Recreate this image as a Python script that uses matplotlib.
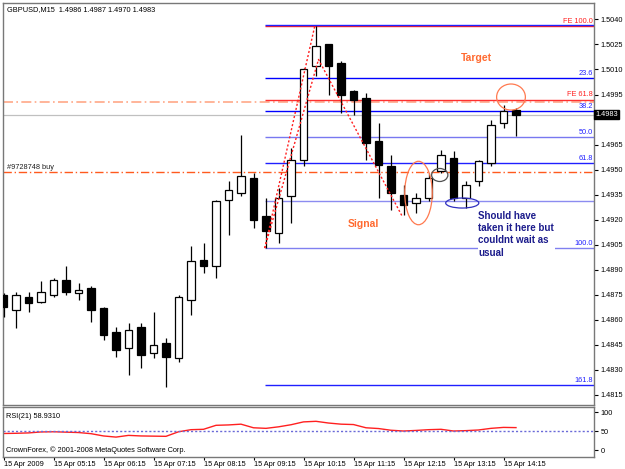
import numpy as np
import matplotlib
matplotlib.use('Agg')
import matplotlib.pyplot as plt
from matplotlib.patches import Ellipse

plt.rcParams['font.family'] = ['Liberation Sans', 'DejaVu Sans']

# --- data (GBPUSD M15, 15 Apr 2009) ---
opens = [1.4875, 1.4866, 1.4874, 1.4871, 1.4875, 1.4884, 1.4876, 1.4879, 1.4867, 1.4853,
         1.4843, 1.4856, 1.4840, 1.4846, 1.4837, 1.4872, 1.4896, 1.4892, 1.4932, 1.4936,
         1.4945, 1.4922, 1.4912, 1.4934, 1.4956, 1.5012, 1.5025, 1.5014, 1.4997, 1.4993,
         1.4967, 1.4952, 1.4935, 1.4930, 1.4933, 1.4949, 1.4957, 1.4933, 1.4943, 1.4954,
         1.4978, 1.4986]
highs = [1.4876, 1.4877, 1.4877, 1.4883, 1.4885, 1.4892, 1.4882, 1.4880, 1.4868, 1.4856,
         1.4858, 1.4858, 1.4865, 1.4849, 1.4875, 1.4904, 1.4906, 1.4932, 1.4943, 1.4971,
         1.4948, 1.4933, 1.4939, 1.4963, 1.5011, 1.5036, 1.5025, 1.5015, 1.4998, 1.4996,
         1.4978, 1.4959, 1.4941, 1.4936, 1.4948, 1.4962, 1.4961, 1.4943, 1.4956, 1.4980,
         1.4989, 1.4987]
lows = [1.4862, 1.4855, 1.4865, 1.4870, 1.4874, 1.4875, 1.4872, 1.4859, 1.4848, 1.4838,
        1.4827, 1.4831, 1.4837, 1.4820, 1.4835, 1.4863, 1.4888, 1.4885, 1.4911, 1.4934,
        1.4915, 1.4903, 1.4906, 1.4918, 1.4952, 1.5006, 1.4995, 1.4984, 1.4983, 1.4956,
        1.4933, 1.4926, 1.4923, 1.4924, 1.4931, 1.4948, 1.4931, 1.4927, 1.4940, 1.4952,
        1.4975, 1.4970]
closes = [1.4868, 1.4875, 1.4870, 1.4877, 1.4884, 1.4877, 1.4878, 1.4866, 1.4851, 1.4842,
          1.4854, 1.4839, 1.4845, 1.4838, 1.4874, 1.4895, 1.4892, 1.4931, 1.4938, 1.4946,
          1.4920, 1.4913, 1.4933, 1.4956, 1.5010, 1.5024, 1.5012, 1.4995, 1.4992, 1.4966,
          1.4953, 1.4936, 1.4929, 1.4933, 1.4945, 1.4959, 1.4933, 1.4941, 1.4955, 1.4977,
          1.4985, 1.4983]
rsi = [43.5, 44, 45, 47.5, 48, 47, 46, 43, 37, 34, 38.5, 37, 36.5, 36, 48, 53.5, 54.5, 65,
       66, 68, 58.5, 57, 61, 66.5, 74, 75.5, 71, 68, 67, 58.5, 56.5, 52, 50, 51.5, 53.5, 54.5,
       50, 51, 52.7, 57, 59.5, 58.931]
time_labels = ['15 Apr 2009', '15 Apr 05:15', '15 Apr 06:15', '15 Apr 07:15', '15 Apr 08:15',
               '15 Apr 09:15', '15 Apr 10:15', '15 Apr 11:15', '15 Apr 12:15', '15 Apr 13:15',
               '15 Apr 14:15']
price_ticks = [1.5040, 1.5025, 1.5010, 1.4995, 1.4965, 1.4950, 1.4935, 1.4920, 1.4905,
               1.4890, 1.4875, 1.4860, 1.4845, 1.4830, 1.4815]

# fibo retracement (blue) and fibo expansion (red) levels
fib_levels = [1.50365, 1.5005, 1.49852, 1.49695, 1.49538, 1.49315, 1.4903, 1.4821]
fib_names = ['', '23.6', '38.2', '50.0', '61.8', '', '100.0', '161.8']
fib_colors = ['#2020ff', '#0000ff', '#0000ff', '#7878f0', '#2020ff', '#8c8cf0', '#8080f0', '#2020ff']
fe_levels = [1.5036, 1.4992]
fe_names = ['FE 100.0', 'FE 61.8']
anchor_idx = 20.9
buy_price = 1.49486
tp_price = 1.49907
bid = 1.4983

# zigzag anchors of the fibo tools
zz_x = [20.9, 25.2, 31.9]
zz_y = [1.4903, 1.5016, 1.4922]
fr_x = [20.9, 24.9]
fr_y = [1.4903, 1.5036]

n = len(opens)
x = np.arange(n)
xmin, xmax = -0.08, 47.2

fig = plt.figure(figsize=(6.25, 4.69), dpi=100)
fig.patch.set_facecolor('white')
ax = fig.add_axes([0.004, 0.1375, 0.9456, 0.856])
ar = fig.add_axes([0.004, 0.0262, 0.9456, 0.1066])

# --- candles ---
ax.vlines(x, lows, highs, color='black', linewidth=0.9, zorder=3)
for i in range(n):
    o, c = opens[i], closes[i]
    bottom = min(o, c)
    h = max(abs(c - o), 0.00004)
    fc = 'white' if c >= o else 'black'
    ax.bar(x[i], h, bottom=bottom, width=0.62, facecolor=fc, edgecolor='black',
           linewidth=0.9, zorder=4)

# --- level lines ---
ax.axhline(tp_price, color='#ffa888', linewidth=1.2, linestyle=(0, (6, 2, 1, 2)), zorder=1)
ax.axhline(buy_price, color='#ff5a1e', linewidth=1.0, linestyle=(0, (6, 2, 1, 2)), zorder=1)
ax.axhline(bid, color='#c0c0c0', linewidth=0.9, zorder=1)
ax.text(0.25, buy_price + 0.00008, '#9728748 buy', fontsize=5.3, color='#202020', va='bottom')

for lv, c in zip(fe_levels, ['#ff2020', '#ff3030']):
    ax.hlines(lv, anchor_idx, xmax, color=c, linewidth=1.0, zorder=2)
for lv, c in zip(fib_levels, fib_colors):
    ax.hlines(lv, anchor_idx, xmax, color=c, linewidth=1.0, zorder=2)

lab_x = xmax - 0.05
for lv, name in zip(fe_levels, fe_names):
    ax.text(lab_x, lv + 0.00007, name, fontsize=5.3, color='#ff2020', ha='right', va='bottom')
for lv, name in zip(fib_levels, fib_names):
    if name:
        ax.text(lab_x, lv + 0.00007, name, fontsize=5.3, color='#2020ff', ha='right', va='bottom')

ax.plot(zz_x, zz_y, color='#ff2020', linewidth=1.0, linestyle=(0, (1.5, 1.5)), zorder=5)
ax.plot(fr_x, fr_y, color='#ff2020', linewidth=1.0, linestyle=(0, (1.5, 1.5)), zorder=5)

# --- annotations ---
ax.text(37.8, 1.50168, 'Target', fontsize=7.5, fontweight='bold', color='#ff6a30',
        ha='center', va='center')
ax.text(28.8, 1.49175, 'Signal', fontsize=7.5, fontweight='bold', color='#ff6a30',
        ha='center', va='center')
ax.text(38.0, 1.49255, 'Should have\ntaken it here but\ncouldnt wait as\nusual', fontsize=7,
        fontweight='bold', color='#1c1c8c', ha='left', va='top', linespacing=1.3,
        bbox=dict(facecolor='white', edgecolor='none', pad=0.5), zorder=6)

ax.add_patch(Ellipse((33.2, 1.4936), 2.2, 0.0038, fill=False, edgecolor='#ff7a50', linewidth=0.9, zorder=6))
ax.add_patch(Ellipse((34.9, 1.49468), 1.3, 0.00078, fill=False, edgecolor='#505050', linewidth=0.9, zorder=6))
ax.add_patch(Ellipse((36.7, 1.4930), 2.65, 0.0006, fill=False, edgecolor='#3030c0', linewidth=0.9, zorder=6))
ax.add_patch(Ellipse((40.6, 1.49935), 2.3, 0.00156, fill=False, edgecolor='#ff7a50', linewidth=0.9, zorder=6))

ax.text(0.008, 0.992, 'GBPUSD,M15  1.4986 1.4987 1.4970 1.4983', transform=ax.transAxes,
        fontsize=5.3, color='black', ha='left', va='top')

# --- main axis formatting ---
ax.set_xlim(xmin, xmax)
ax.set_ylim(1.48093, 1.50498)
ax.yaxis.tick_right()
ax.set_yticks(price_ticks)
ax.set_yticklabels([f'{p:.4f}' for p in price_ticks])
ax.tick_params(axis='y', direction='out', length=3, width=0.8, labelsize=5.3, pad=2)
ax.set_xticks([])
for s in ax.spines.values():
    s.set_color('#787878')
    s.set_linewidth(1.0)
ax.text(1.0025, (bid - 1.48093) / (1.50498 - 1.48093), f'{bid:.4f}', transform=ax.transAxes,
        fontsize=5.3, color='white', ha='left', va='center',
        bbox=dict(facecolor='black', edgecolor='black', pad=1.0), zorder=7, clip_on=False)

# --- RSI panel ---
ar.plot(x, rsi, color='#ff2020', linewidth=1.0)
ar.axhline(50, color='#6a6ad8', linewidth=1.0, linestyle=(0, (1.5, 1.5)))
ar.set_xlim(xmin, xmax)
ar.set_ylim(-17.6, 113.9)
ar.yaxis.tick_right()
ar.set_yticks([0, 50, 100])
ar.tick_params(axis='y', direction='out', length=3, width=0.8, labelsize=5.3, pad=2)
ar.set_xticks(np.arange(0, n, 4))
ar.set_xticklabels(time_labels, ha='left')
ar.tick_params(axis='x', direction='out', length=2, width=0.8, labelsize=5.3, pad=1)
for s in ar.spines.values():
    s.set_color('#787878')
    s.set_linewidth(1.0)
ar.text(0.006, 0.88, f'RSI(21) {rsi[-1]:.4f}', transform=ar.transAxes,
        fontsize=5.3, color='black', ha='left', va='top')
ar.text(0.006, 0.05, 'CrownForex, \u00a9 2001-2008 MetaQuotes Software Corp.', transform=ar.transAxes,
        fontsize=5.3, color='black', ha='left', va='bottom')

fig.savefig('out.png', dpi=100, facecolor='white')
